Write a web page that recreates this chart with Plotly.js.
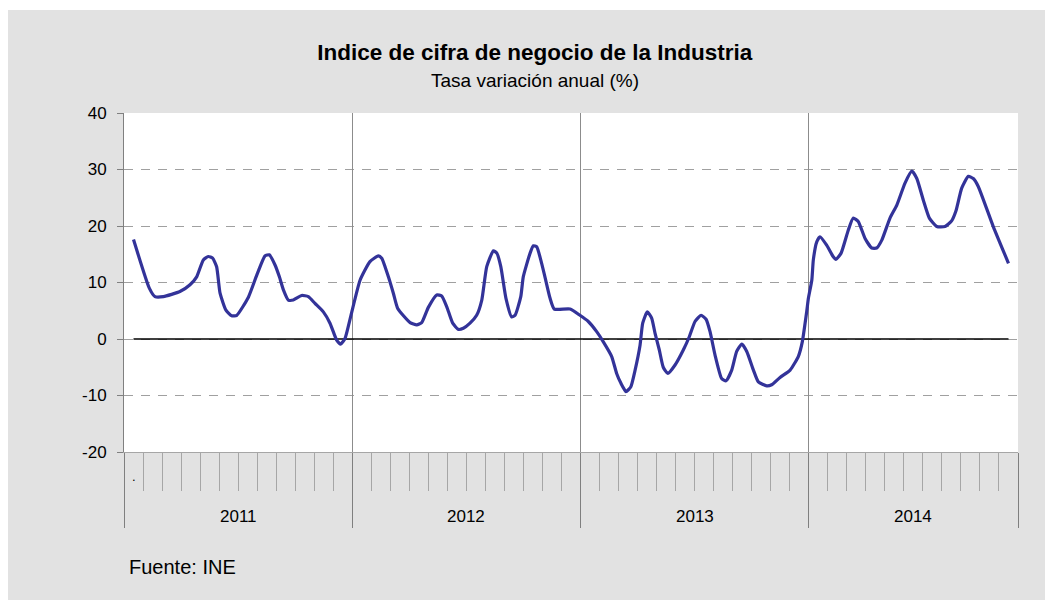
<!DOCTYPE html>
<html><head><meta charset="utf-8">
<script src="https://cdn.plot.ly/plotly-3.0.1.min.js"></script>
<style>
html,body{margin:0;padding:0;background:#fff;}
#chart{position:absolute;left:8px;top:10px;width:1037px;height:590px;}
</style>
</head><body><div id="chart"></div>
<script>
// Categories: years and number of months shown per year
const years = ['2011', '2012', '2013', '2014'];
const monthsPerYear = [12, 12, 12, 11];

// Series: position in months since Jan 2011 and annual rate of change (%)
const monthPos = [0.5, 1.33, 1.63, 2.07, 2.94, 3.47, 3.82, 4.17, 4.43, 4.66, 4.87, 5.05, 5.36, 5.66, 5.93, 6.54, 6.98, 7.41, 7.64, 7.94, 8.17, 8.38, 8.64, 8.90, 9.34, 9.69, 10.04, 10.48, 10.83, 11.18, 11.39, 11.62, 11.92, 12.41, 12.93, 13.37, 13.55, 13.90, 14.16, 14.39, 15.04, 15.39, 15.65, 16.00, 16.44, 16.70, 16.97, 17.28, 17.58, 17.84, 18.19, 18.54, 18.81, 19.07, 19.42, 19.60, 19.81, 20.08, 20.38, 20.56, 20.86, 20.99, 21.35, 21.52, 21.70, 21.91, 22.13, 22.40, 22.62, 23.45, 23.97, 24.41, 24.85, 25.20, 25.64, 25.90, 26.12, 26.39, 26.64, 26.87, 27.13, 27.27, 27.51, 27.74, 27.92, 28.14, 28.35, 28.59, 28.97, 29.41, 29.72, 30.02, 30.34, 30.60, 30.81, 31.07, 31.42, 31.65, 31.95, 32.21, 32.48, 32.74, 33.09, 33.35, 33.79, 34.05, 34.49, 35.02, 35.45, 35.66, 35.89, 35.98, 36.16, 36.24, 36.42, 36.59, 36.94, 37.26, 37.43, 37.70, 38.08, 38.34, 38.60, 38.96, 39.31, 39.57, 39.84, 40.27, 40.63, 41.06, 41.42, 41.68, 42.02, 42.34, 42.73, 43.16, 43.51, 43.74, 44.04, 44.39, 44.65, 44.91, 45.70, 46.5];
const tasa = [17.6, 9.0, 7.5, 7.5, 8.4, 9.6, 11.0, 14.0, 14.6, 14.3, 12.8, 8.1, 5.1, 4.1, 4.2, 7.4, 11.3, 14.7, 14.9, 13.1, 11.0, 8.7, 6.9, 6.9, 7.7, 7.5, 6.3, 4.8, 2.8, -0.2, -0.9, 0.1, 4.0, 10.4, 13.7, 14.7, 14.3, 11.0, 8.1, 5.4, 2.9, 2.5, 2.9, 5.6, 7.8, 7.6, 5.7, 2.8, 1.7, 1.9, 2.8, 4.2, 6.9, 12.8, 15.6, 15.2, 12.8, 7.2, 3.9, 4.2, 7.5, 11.0, 15.2, 16.5, 16.3, 14.0, 11.0, 7.2, 5.3, 5.3, 4.2, 3.1, 1.3, -0.5, -3.1, -6.1, -7.8, -9.3, -8.5, -5.5, -1.1, 2.8, 4.8, 3.7, 1.0, -1.9, -5.0, -6.1, -4.6, -1.9, 0.4, 3.1, 4.2, 3.5, 1.3, -2.8, -7.0, -7.4, -5.5, -2.2, -0.9, -2.2, -5.5, -7.6, -8.3, -8.1, -6.8, -5.5, -3.1, -0.5, 4.8, 7.2, 10.4, 14.0, 17.2, 18.1, 16.6, 14.7, 14.1, 15.2, 19.3, 21.4, 20.8, 17.8, 16.1, 16.1, 17.5, 21.4, 23.7, 27.6, 29.7, 28.4, 24.6, 21.4, 19.9, 19.9, 20.9, 22.7, 26.7, 28.8, 28.4, 27.0, 19.9, 13.4];

// Y axis ticks and their labels (plain hyphen minus as in the original)
const yTicks = [-20, -10, 0, 10, 20, 30, 40];
const yTickLabels = ['-20', '-10', '0', '10', '20', '30', '40'];

// Texts
const titleText = 'Indice de cifra de negocio de la Industria';
const subtitleText = 'Tasa variación anual (%)';
const sourceText = 'Fuente: INE';
const firstCategoryLabel = '.';

// Derived axis positions from categories
const totalMonths = monthsPerYear.reduce((a, b) => a + b, 0);
const monthBounds = Array.from({length: totalMonths + 1}, (_, i) => i);
const yearBounds = [0];
monthsPerYear.forEach(m => yearBounds.push(yearBounds[yearBounds.length - 1] + m));
const yearCenters = years.map((_, i) => (yearBounds[i] + yearBounds[i + 1]) / 2);
const firstCenter = 0.5, lastCenter = totalMonths - 0.5;

const FONT = 'Liberation Sans, Arial, sans-serif';

const traces = [
  {x: [firstCenter, lastCenter], y: [0, 0], xaxis: 'x', yaxis: 'y', mode: 'lines',
   line: {color: '#000000', width: 1.6}, hoverinfo: 'skip', showlegend: false},
  {x: monthPos, y: tasa, xaxis: 'x', yaxis: 'y', mode: 'lines', name: 'Tasa',
   line: {color: '#333399', width: 3.2, shape: 'spline', smoothing: 0.5}, showlegend: false},
  {x: [yearBounds[0]], y: [null], xaxis: 'x2', yaxis: 'y', mode: 'markers',
   marker: {opacity: 0}, hoverinfo: 'skip', showlegend: false},
  {x: [yearBounds[1]], y: [null], xaxis: 'x3', yaxis: 'y', mode: 'markers',
   marker: {opacity: 0}, hoverinfo: 'skip', showlegend: false}
];

const annotations = years.map((yr, i) => ({
  text: yr, x: yearCenters[i], xref: 'x', y: 0, yref: 'paper', yshift: -64,
  showarrow: false, xanchor: 'center', yanchor: 'middle',
  font: {family: FONT, size: 17, color: '#000'}
}));
annotations.push({text: firstCategoryLabel, x: firstCenter, xref: 'x', y: 0, yref: 'paper', yshift: -24,
  showarrow: false, xanchor: 'center', yanchor: 'middle', font: {family: FONT, size: 13, color: '#000'}});
annotations.push({text: sourceText, x: 0, xref: 'paper', xshift: 3, y: 0, yref: 'paper', yshift: -115,
  showarrow: false, xanchor: 'left', yanchor: 'middle', font: {family: FONT, size: 20, color: '#000'}});
annotations.push({text: subtitleText, x: 0.46, xref: 'paper', y: 1, yref: 'paper', yshift: 33,
  showarrow: false, xanchor: 'center', yanchor: 'middle', font: {family: FONT, size: 19, color: '#000'}});

const layout = {
  width: 1037, height: 590,
  paper_bgcolor: '#e2e2e2', plot_bgcolor: '#ffffff',
  margin: {l: 116, r: 27, t: 103, b: 148},
  showlegend: false,
  title: {text: '<b>' + titleText + '</b>', x: 0.508, xref: 'container', xanchor: 'center',
          y: 1 - 42 / 590, yref: 'container', yanchor: 'middle',
          font: {family: FONT, size: 22.5, color: '#000'}},
  xaxis: {range: [0, totalMonths], tickmode: 'array', tickvals: monthBounds, ticks: 'outside',
          ticklen: 38, tickcolor: '#a6a6a6', tickwidth: 1, showticklabels: false,
          showgrid: false, zeroline: false, showline: true, linecolor: '#a6a6a6', linewidth: 1,
          fixedrange: true},
  xaxis2: {range: [0, totalMonths], overlaying: 'x', anchor: 'y', side: 'bottom', tickmode: 'array',
           tickvals: yearBounds, ticks: 'outside', ticklen: 75, tickcolor: '#7f7f7f', tickwidth: 1,
           showticklabels: false, showgrid: false, zeroline: false, showline: false, fixedrange: true},
  xaxis3: {range: [0, totalMonths], overlaying: 'x', anchor: 'y', side: 'bottom', tickmode: 'array',
           tickvals: yearBounds.slice(1, -1), ticks: '', showticklabels: false,
           showgrid: true, gridcolor: '#8c8c8c', gridwidth: 1, zeroline: false, showline: false, fixedrange: true},
  yaxis: {range: [-20, 40], tickmode: 'array', tickvals: yTicks, ticktext: yTickLabels,
          ticks: 'outside', ticklen: 6, ticklabelstandoff: 7,
          tickcolor: '#808080', showline: true, linecolor: '#808080', linewidth: 1,
          showgrid: true, gridcolor: '#a0a0a0', griddash: '9px,8px', gridwidth: 1,
          zeroline: false, tickfont: {family: FONT, size: 17, color: '#000'}, fixedrange: true},
  annotations: annotations
};

Plotly.newPlot('chart', traces, layout, {displayModeBar: false, staticPlot: true});
</script>
</body></html>
